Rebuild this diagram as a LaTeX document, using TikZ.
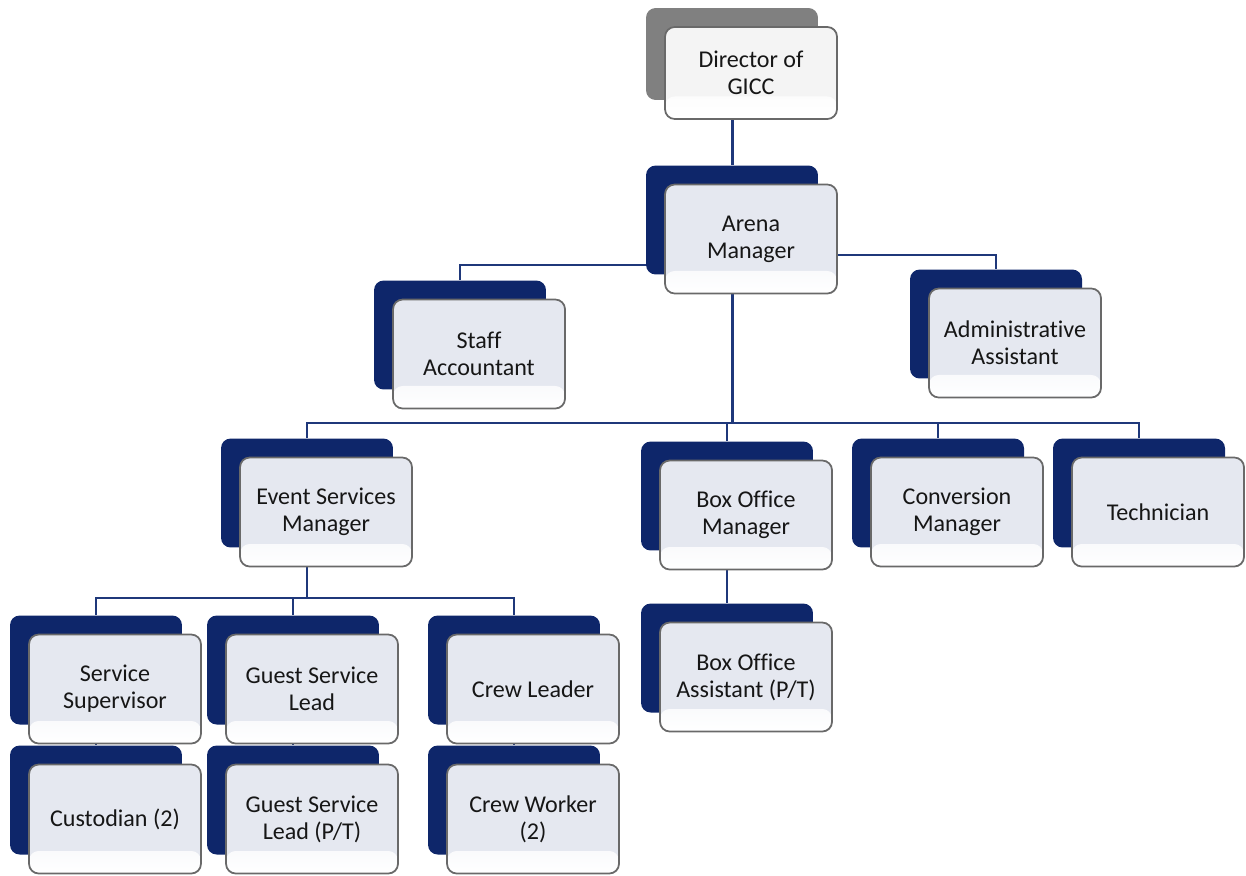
\documentclass[tikz,border=0pt]{standalone}
\usepackage{fontspec}
\setmainfont{Carlito}[Ligatures=NoCommon]
\usetikzlibrary{backgrounds}
\definecolor{navy}{RGB}{14,38,106}
\definecolor{wire}{RGB}{31,56,122}
\definecolor{pane}{RGB}{229,232,240}
\definecolor{rim}{RGB}{105,105,105}
\definecolor{slate}{RGB}{128,128,128}
\definecolor{ink}{RGB}{22,22,22}
\tikzset{
  back/.style={rounded corners=5.5pt,fill=navy,minimum width=3.44cm,minimum height=2.18cm,inner sep=0pt},
  front/.style={rounded corners=5.5pt,draw=rim,line width=1pt,fill=pane,minimum width=3.44cm,minimum height=2.18cm,
    inner sep=1pt,align=center,text=ink,font=\fontsize{13.7}{15.4}\selectfont,
    path picture={\shade[top color=pane,bottom color=white]
      ([yshift=0.45cm]path picture bounding box.south west) rectangle (path picture bounding box.south east);}},
  dirback/.style={back,fill=slate,minimum height=1.84cm},
  dirfront/.style={front,fill=gray!9,minimum height=1.84cm,
    path picture={\shade[top color=gray!9,bottom color=white]
      ([yshift=0.45cm]path picture bounding box.south west) rectangle (path picture bounding box.south east);}},
  link/.style={wire,line width=0.85pt},
  trunk/.style={wire,line width=1.7pt},
}
\begin{document}
\begin{tikzpicture}[x=0.02cm,y=-0.02cm]
\useasboundingbox (0,0) rectangle (1246,875);
% director
\node[dirback] (dir) at (732,54) {};
\node[dirfront] (dir-t) at ([shift={(19,19)}]dir) {Director of\\GICC};
% all other posts: back plate, then front card
\foreach \n/\x/\y/\t in {
  arena/732/220/{Arena\\Manager},
  staff/460/335/{Staff\\Accountant},
  admin/996/324/{Administrative\\Assistant},
  esm/307/493/{Event Services\\Manager},
  bom/727/496/{Box Office\\Manager},
  conv/938/493/{Conversion\\Manager},
  tech/1139/493/{Technician},
  ss/96/670/{Service\\Supervisor},
  gsl/293/670/{Guest Service\\Lead},
  crew/514/670/{Crew Leader},
  boa/727/658/{Box Office\\Assistant (P/T)},
  cust/96/800/{Custodian (2)},
  gslpt/293/800/{Guest Service\\Lead (P/T)},
  cw/514/800/{Crew Worker\\(2)}}{
  \node[back] (\n) at (\x,\y) {};
  \node[front] (\n-t) at ([shift={(19,19)}]\n) {\t};
}
% connectors behind the cards
\begin{scope}[on background layer]
\coordinate (busA) at (733,423);
\coordinate (busB) at (307,598);
\draw[trunk] (dir) -- (dir |- arena.north);
\draw[link] ([yshift=-0.9cm]arena.west) -| (staff.north);
\draw[link] ([yshift=-0.7cm]arena.east) -| (admin.north);
\draw[trunk] (arena.south) -- (arena.south |- busA);
\draw[link] (esm.north) |- (busA) -| (tech.north);
\draw[link] (busA -| bom.north) -- (bom.north);
\draw[link] (busA -| conv.north) -- (conv.north);
\draw[trunk] (esm.south) -- (esm.south |- busB);
\draw[link] (ss.north) |- (busB) -| (crew.north);
\draw[link] (busB -| gsl.north) -- (gsl.north);
\draw[link] (bom.south) -- (boa.north);
\draw[link] (ss.south) -- (cust.north);
\draw[link] (gsl.south) -- (gslpt.north);
\draw[link] (crew.south) -- (cw.north);
\end{scope}
\end{tikzpicture}
\end{document}
